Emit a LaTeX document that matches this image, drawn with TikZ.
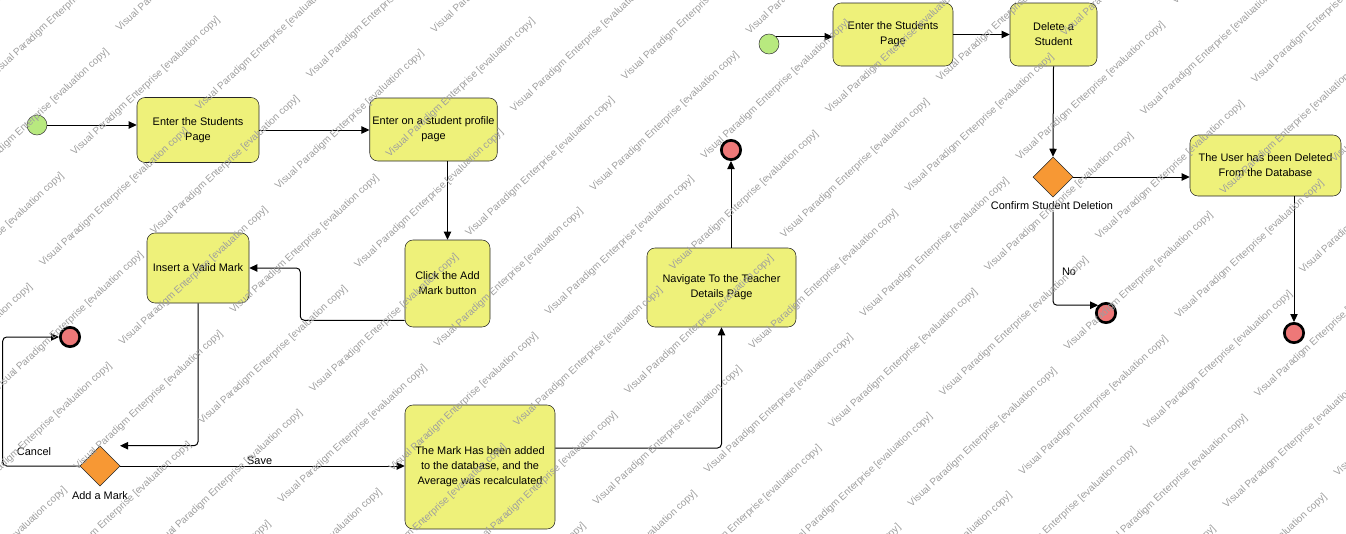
\documentclass[tikz,border=0pt]{standalone}
\usepackage{fontspec}
\setmainfont{Liberation Sans}
\usetikzlibrary{shapes.geometric,arrows.meta}

\definecolor{actyellow}{RGB}{238,241,122}
\definecolor{decorange}{RGB}{247,152,52}
\definecolor{startgreen}{RGB}{184,233,127}
\definecolor{endred}{RGB}{238,120,120}

\tikzset{
  act/.style={draw=black!85, fill=actyellow, rounded corners=6pt, align=center,
    inner sep=2pt, font=\fontsize{8.2}{11.25}\selectfont},
  decision/.style={diamond, draw=black!85, fill=decorange, minimum width=30pt,
    minimum height=30pt, inner sep=0pt},
  initial/.style={circle, draw=black!75, fill=startgreen, minimum size=15pt, inner sep=0pt},
  final/.style={circle, draw=black, line width=2pt, fill=endred, minimum size=14.5pt, inner sep=0pt},
  flow/.style={-{Triangle[length=6pt,width=5.5pt]}, line width=0.75pt, rounded corners=3pt},
  lbl/.style={font=\fontsize{8.2}{10}\selectfont, inner sep=1pt},
  wmark/.style={text=black!38, font=\fontsize{7.5}{8}\selectfont, rotate=43,
    anchor=base west, inner sep=0pt}
}

\begin{document}
\begin{tikzpicture}[x=0.75pt,y=-0.75pt]
\useasboundingbox (0,0) rectangle (1346,533);

% add a mark
\node[initial] (s1) at (37,125) {};
\node[act, minimum width=91.5pt, minimum height=48.75pt] (a1) at (198,130) {Enter the Students\\Page};
\node[act, minimum width=90.75pt, minimum height=47.25pt] (a2) at (433.5,129.5) {Enter on a student profile\\page};
\node[act, minimum width=63.75pt, minimum height=65.25pt] (a3) at (447.5,283.5) {Click the Add\\Mark button};
\node[act, minimum width=76.5pt, minimum height=52.5pt] (a4) at (198,268) {Insert a Valid Mark};
\node[decision] (d1) at (100,466) {};
\node[lbl] (d1lbl) at (100,496) {Add a Mark};
\node[final] (f1) at (70,337) {};
\node[lbl] (cancel) at (34,452) {Cancel};
\node[act, minimum width=112.5pt, minimum height=93pt] (a5) at (480,467) {The Mark Has been added\\to the database, and the\\Average was recalculated};
\node[act, minimum width=111.75pt, minimum height=59.25pt] (a6) at (721.5,287.5) {Navigate To the Teacher\\Details Page};
\node[final] (f2) at (731,150) {};

\draw[flow] (s1) -- (s1 -| a1.west);
\draw[flow] (a1.east) -- (a1.east -| a2.west);
\draw[flow] (a3.north |- a2.south) -- (a3.north);
\draw[flow] ([yshift=5.25pt]a3.south west) -| ([xshift=38.25pt]a4.east) -- (a4.east);
\draw[flow] (a4.south) |- ([xshift=15pt]d1.north);
\draw[flow] (d1.west) -- ++(-77,0) |- (f1.west);
\draw[flow] (d1.east) -- node[lbl, above, pos=0.49] (save) {Save} (d1.east -| a5.west);
\draw[flow] ([yshift=14.25pt]a5.east) -| (a6.south);
\draw[flow] (f2 |- a6.north) -- (f2.south);

% delete a student
\node[initial] (s2) at (769,44) {};
\node[act, minimum width=90pt, minimum height=47.25pt] (b1) at (893,34.5) {Enter the Students\\Page};
\node[act, minimum width=65.25pt, minimum height=47.25pt] (b2) at (1053.5,34.5) {Delete a\\Student};
\node[decision] (d2) at (1053,177) {};
\node[lbl] (d2lbl) at (1052,206) {Confirm Student Deletion};
\node[act, minimum width=113.25pt, minimum height=45.75pt] (b3) at (1265.5,165.5) {The User has been Deleted\\From the Database};
\node[lbl] (no) at (1069,272) {No};
\node[final] (f3) at (1106,313) {};
\node[final] (f4) at (1294,333) {};

\draw[flow] (s2.45) -- (s2.45 -| b1.west);
\draw[flow] (b1.east) -- (b1.east -| b2.west);
\draw[flow] (b2.south) -- (d2.north);
\draw[flow] (d2.east) -- (d2.east -| b3.west);
\draw[flow] (f4 |- b3.south) -- (f4.north);
\draw[flow] (d2 |- d2lbl.south) |- (f3.135);

% evaluation watermark
\begin{scope}
\clip (0,0) rectangle (1346,533);
\foreach \m in {-3,...,6}
  \foreach \n in {-5,...,9} {
    \node[wmark] (wm-\m-\n-a) at ({43+235.5*\m+79.5*\n},{267-77.3*\m+79*\n}) {Visual Paradigm Enterprise [evaluation copy]};
    \node[wmark] (wm-\m-\n-b) at ({154+235.5*\m+79.5*\n},{235-77.3*\m+79*\n}) {Visual Paradigm Enterprise [evaluation copy]};
  }
\end{scope}
\end{tikzpicture}
\end{document}
